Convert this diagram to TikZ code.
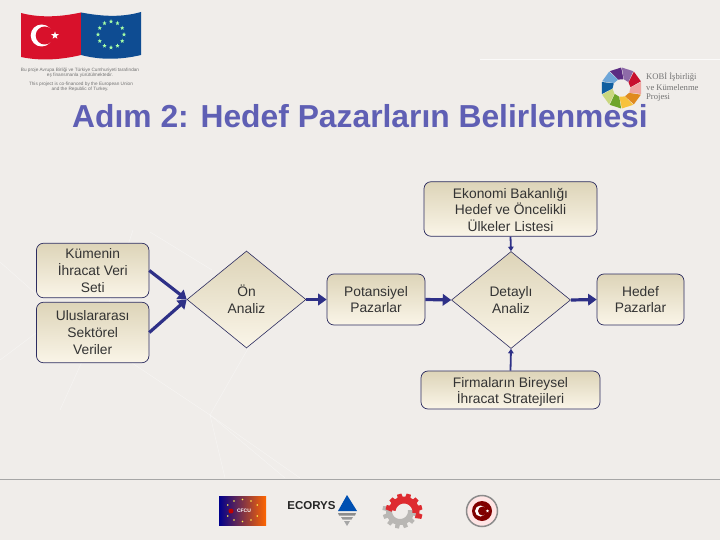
\documentclass[tikz,border=0pt]{standalone}
\usepackage{fontspec}
\setmainfont{Liberation Sans}
\newfontfamily\serifsmall{Liberation Serif}
\usetikzlibrary{shapes.geometric,arrows.meta}
\definecolor{bgc}{HTML}{F0EDEA}
\definecolor{arrowc}{HTML}{2E3087}
\definecolor{boxedge}{HTML}{2C2C60}
\definecolor{titlec}{HTML}{5F5FB4}
\definecolor{tan1}{HTML}{DDD4B8}
\definecolor{tan2}{HTML}{FAF5E8}
\definecolor{flagred}{HTML}{D8112B}
\definecolor{flagblue}{HTML}{0E4C92}
\definecolor{gearred}{HTML}{DE2B30}
\definecolor{geargray}{HTML}{B9B7B4}
\tikzset{
  flowbox/.style={draw=boxedge,line width=0.7pt,rounded corners=7pt,top color=tan1,bottom color=tan2,
    inner sep=0pt,align=center,text=black!80,font=\fontsize{13.8}{16.7}\selectfont},
  decision/.style={diamond,draw=boxedge,line width=0.6pt,top color=tan1,bottom color=tan2,
    inner sep=0pt,align=center,text=black!80,font=\fontsize{13.8}{16.7}\selectfont,
    minimum width=119pt,minimum height=97pt},
  bigarrow/.style={draw=arrowc,line width=3.2pt,-{Triangle[length=8.5pt,width=11.5pt]}},
  thinarrow/.style={draw=arrowc,line width=1.8pt,-{Triangle[length=4.5pt,width=5.5pt]}},
  faint/.style={draw=white,line width=0.5pt,opacity=0.4},
  smalltext/.style={text=black!55,inner sep=0pt,font=\fontsize{4.7}{5.5}\selectfont},
  logotext/.style={text=black!55,inner sep=0pt,anchor=west,font=\serifsmall\fontsize{8.6}{10}\selectfont},
  star5/.style={star,star points=5,star point ratio=2.4,inner sep=0pt,minimum size=#1}
}
\begin{document}
\begin{tikzpicture}[x=1pt,y=-1pt]
\useasboundingbox (0,0) rectangle (720,540);
\fill[bgc] (0,0) rectangle (720,540);
% faint background lines
\draw[faint] (0,262) -- (60,315) -- (0,360);
\draw[faint] (133,230) -- (110,300) -- (60,410);
\draw[faint] (150,232) -- (212,270);
\draw[faint] (60,315) -- (210,415) -- (300,478);
\draw[faint] (225,478) -- (210,415) -- (285,478);
\draw[faint] (250,345) -- (210,415);
\draw[draw=white,line width=1pt,opacity=0.75] (480,60) -- (720,60);
\draw[draw=black!35,line width=1.6pt] (0,479.5) -- (720,479.5);
% Turkish + EU flags
\fill[flagred] (21,13) .. controls (40,18) and (60,17) .. (81,12.5) -- (81,55) .. controls (60,60) and (40,61) .. (21,57) -- cycle;
\fill[flagblue] (81,12.5) .. controls (100,16) and (120,18) .. (141,12) -- (141,55) .. controls (120,60) and (100,60) .. (81,55) -- cycle;
\fill[white] (41.7,35.5) circle (11);
\fill[flagred] (44.7,35.5) circle (9);
\node[star5=8pt,fill=white] at (55,35.5) {};
\foreach \a in {0,30,...,330}
  \node[star5=4.5pt,fill=green!35!white] at ({111+13*cos(\a)},{34.5+13*sin(\a)}) {};
% project texts
\node[smalltext] (t1) at (80,70) {Bu proje Avrupa Birliği ve Türkiye Cumhuriyeti tarafından};
\node[smalltext] (t2) at (80,75.5) {eş finansmanla yürütülmektedir.};
\node[smalltext] (t3) at (81,84) {This project is co-financed by the European Union};
\node[smalltext] (t4) at (80,89.5) {and the Republic of Turkey.};
% KOBI logo
\foreach \i/\c in {0/5B2C83,1/8E6BA8,2/C8102E,3/EFA5A0,4/E08A1E,5/F7C23C,6/6FA52B,7/C9D77E,8/0F5EA0,9/6EA6D8}{
  \definecolor{wc}{HTML}{\c}
  \pgfmathsetmacro{\aa}{-126+36*\i+1}
  \pgfmathsetmacro{\bb}{\aa+34}
  \fill[wc] ({621.5+20.5*cos(\aa)},{88+20.5*sin(\aa)}) -- ({621.5+20.5*cos(\bb)},{88+20.5*sin(\bb)}) -- ({621.5+9*cos(\bb+14)},{88+9*sin(\bb+14)}) -- ({621.5+9*cos(\aa+14)},{88+9*sin(\aa+14)}) -- cycle;
}
\node[logotext] (k1) at (646,77) {KOBİ İşbirliği};
\node[logotext] (k2) at (646,87.5) {ve Kümelenme};
\node[logotext] (k3) at (646,98) {Projesi};
% title
\node[text=titlec,inner sep=0pt,font=\bfseries\fontsize{31.8}{36}\selectfont] (title) at (360,116.5) {Adım 2: Hedef Pazarların Belirlenmesi};
% flow nodes
\node[flowbox,minimum width=112.5pt,minimum height=54.5pt] (kume) at (92.7,270.5) {Kümenin\\İhracat Veri\\Seti};
\node[flowbox,minimum width=112.5pt,minimum height=60.5pt] (ulus) at (92.7,332.5) {Uluslararası\\Sektörel\\Veriler};
\node[decision] (on) at (246.5,299.5) {Ön\\Analiz};
\node[flowbox,minimum width=98pt,minimum height=51pt] (pot) at (376,299.5) {Potansiyel\\Pazarlar};
\node[decision] (det) at (511,300) {Detaylı\\Analiz};
\node[flowbox,minimum width=87pt,minimum height=51pt] (hedef) at (640.5,299.5) {Hedef\\Pazarlar};
\node[flowbox,minimum width=173pt,minimum height=54.5pt] (eko) at (510.5,209) {\rule{0pt}{12pt}Ekonomi Bakanlığı\\Hedef ve Öncelikli\\Ülkeler Listesi};
\node[flowbox,minimum width=179pt,minimum height=38pt] (firma) at (510.5,390) {\rule{0pt}{14pt}Firmaların Bireysel\\İhracat Stratejileri};
% connectors
\draw[bigarrow] (kume.east) -- (on.west);
\draw[bigarrow] (ulus.east) -- (on.west);
\draw[bigarrow] (on.east) -- (pot.west);
\draw[bigarrow] (pot.east) -- (det.west);
\draw[bigarrow] (det.east) -- (hedef.west);
\draw[thinarrow] (eko.south) -- (det.north);
\draw[thinarrow] (firma.north) -- (det.south);
% footer logos
\shade[left color=blue!55!black,right color=orange!80!red] (219,496) rectangle (266,525);
\node[text=white,inner sep=0pt,font=\bfseries\fontsize{5}{6}\selectfont] (cfcu) at (244,511) {CFCU};
\fill[red!75!black] (231,511) circle (2.5);
\foreach \a in {30,60,...,150,210,240,...,330}
  \fill[yellow!70!white] ({242.5+17*cos(\a)},{510.5+11*sin(\a)}) circle (0.8);
\node[text=black!85,inner sep=0pt,font=\bfseries\fontsize{11.5}{14}\selectfont] (ecorys) at (311.5,506) {ECORYS};
\fill[blue!55!cyan!70!black] (347,495) -- (357,511) -- (338,511) -- cycle;
\fill[black!45] (338,513) -- (356,513) -- (355,515.5) -- (339,515.5) -- cycle;
\fill[black!40] (341,517) -- (353,517) -- (351.5,519.5) -- (342.5,519.5) -- cycle;
\fill[black!35] (344,521) -- (350,521) -- (347,526) -- cycle;
% gear logo
\draw[geargray,line width=6pt] plot[domain=-5:185,samples=30] ({400+11*cos(\x)},{511+11*sin(\x)});
\foreach \a in {10,40,...,190}
  \fill[geargray] ({400+11*cos(\a)-2.5*sin(\a)},{511+11*sin(\a)+2.5*cos(\a)}) -- ({400+17.5*cos(\a)-2*sin(\a)},{511+17.5*sin(\a)+2*cos(\a)}) -- ({400+17.5*cos(\a)+2*sin(\a)},{511+17.5*sin(\a)-2*cos(\a)}) -- ({400+11*cos(\a)+2.5*sin(\a)},{511+11*sin(\a)-2.5*cos(\a)}) -- cycle;
\draw[gearred,line width=7pt] plot[domain=-172:5,samples=30] ({404+12*cos(\x)},{512+12*sin(\x)});
\foreach \a in {-165,-135,...,15}
  \fill[gearred] ({404+12*cos(\a)-3*sin(\a)},{512+12*sin(\a)+3*cos(\a)}) -- ({404+18.5*cos(\a)-2.2*sin(\a)},{512+18.5*sin(\a)+2.2*cos(\a)}) -- ({404+18.5*cos(\a)+2.2*sin(\a)},{512+18.5*sin(\a)-2.2*cos(\a)}) -- ({404+12*cos(\a)+3*sin(\a)},{512+12*sin(\a)-3*cos(\a)}) -- cycle;
% seal
\draw[black!45,line width=1.5pt,fill=white!90!red] (482,511) circle (15.5);
\fill[red!50!black] (482,511) circle (10);
\fill[white] (480.5,511) circle (5.5);
\fill[red!50!black] (482.5,511) circle (4.5);
\node[star5=3.5pt,fill=white] at (487.5,511) {};
\end{tikzpicture}
\end{document}
